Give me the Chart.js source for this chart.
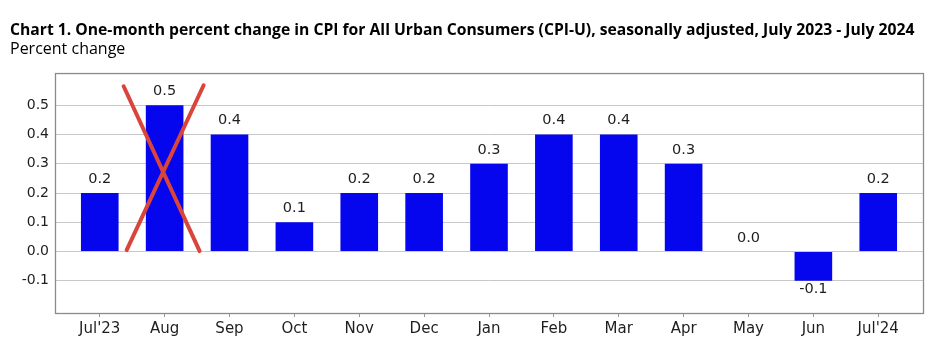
<!DOCTYPE html>
<html><head><meta charset="utf-8">
<script src="https://cdn.jsdelivr.net/npm/chart.js@4.4.1/dist/chart.umd.min.js"></script>
<style>html,body{margin:0;padding:0;background:#fff}#wrap{width:947px;height:347px}</style>
</head><body><div id="wrap"><canvas id="c"></canvas></div>
<script>
const titleText = 'Chart 1. One-month percent change in CPI for All Urban Consumers (CPI-U), seasonally adjusted, July 2023 - July 2024';
const subtitleText = 'Percent change';
const categories = ["Jul'23","Aug","Sep","Oct","Nov","Dec","Jan","Feb","Mar","Apr","May","Jun","Jul'24"];
const values = [0.2,0.5,0.4,0.1,0.2,0.2,0.3,0.4,0.4,0.3,0.0,-0.1,0.2];
const yTicks = [-0.1,0.0,0.1,0.2,0.3,0.4,0.5];
const crossedOut = 'Aug';

const TFONT = '"Open Sans", "Noto Sans", sans-serif';
const FONT = '"DejaVu Sans", sans-serif';
const TXT = '#1e1e1e';

const frame = {
  id:'frame',
  beforeDatasetsDraw(chart){
    const a = chart.chartArea, ctx = chart.ctx;
    ctx.save(); ctx.strokeStyle = '#8a8a8a'; ctx.lineWidth = 1.3;
    ctx.strokeRect(a.left+0.5, a.top+0.5, a.right-a.left, a.bottom-a.top);
    ctx.restore();
  }
};
const labels = {
  id:'vlabels',
  afterDatasetsDraw(chart){
    const ctx = chart.ctx, meta = chart.getDatasetMeta(0);
    ctx.save(); ctx.font = '14.5px ' + FONT; ctx.fillStyle = TXT; ctx.textAlign = 'center'; ctx.textBaseline = 'alphabetic';
    meta.data.forEach((el,i)=>{
      const v = values[i];
      const t = v.toFixed(1);
      if (v >= 0) ctx.fillText(t, el.x, el.y - 10);
      else ctx.fillText(t, el.x, el.y + 12);
    });
    const idx = categories.indexOf(crossedOut);
    const el = meta.data[idx];
    ctx.strokeStyle = '#d9443b'; ctx.lineWidth = 4; ctx.lineCap = 'round';
    ctx.beginPath(); ctx.moveTo(el.x-41, el.y-19); ctx.lineTo(el.x+35, el.base); ctx.stroke();
    ctx.beginPath(); ctx.moveTo(el.x+39, el.y-20); ctx.lineTo(el.x-38, el.base-1); ctx.stroke();
    ctx.restore();
  }
};

new Chart(document.getElementById('c'), {
  type:'bar',
  data:{ datasets:[{ data: values.map((v,i)=>({x:i,y:v})), backgroundColor:'#0505ee', borderWidth:0, barPercentage:0.58, categoryPercentage:1 }]},
  options:{
    responsive:true, maintainAspectRatio:false, animation:false,
    layout:{ padding:{ left:10, right:24, top:0, bottom:6 } },
    plugins:{
      legend:{display:false}, tooltip:{enabled:false},
      title:{ display:true, text:titleText, align:'start', color:'#000', font:{family:TFONT, size:15.7, weight:'bold'}, padding:{top:21, bottom:0} },
      subtitle:{ display:true, text:subtitleText, align:'start', color:'#000', font:{family:TFONT, size:16}, padding:{top:0, bottom:14} }
    },
    scales:{
      x:{ type:'linear', min:-0.69, max:12.69, offset:false,
        afterBuildTicks(s){ s.ticks = categories.map((c,i)=>({value:i})); },
        ticks:{ autoSkip:false, maxRotation:0, padding:3, color:TXT, font:{family:FONT, size:15}, callback:(v)=>categories[v] },
        grid:{ drawOnChartArea:false, drawTicks:true, tickLength:4, color:'#999', offset:false },
        border:{ display:true, color:'#8a8a8a' } },
      y:{ min:-0.21, max:0.61,
        afterBuildTicks(s){ s.ticks = yTicks.map(v=>({value:v})); },
        afterFit(s){ s.width = 45; },
        ticks:{ padding:6, color:TXT, font:{family:FONT, size:14}, callback:(v)=>v.toFixed(1) },
        grid:{ color:'#c8c8c8', drawTicks:false, lineWidth:1 },
        border:{ display:true, color:'#8a8a8a' } }
    }
  },
  plugins:[frame, labels]
});
</script></body></html>
